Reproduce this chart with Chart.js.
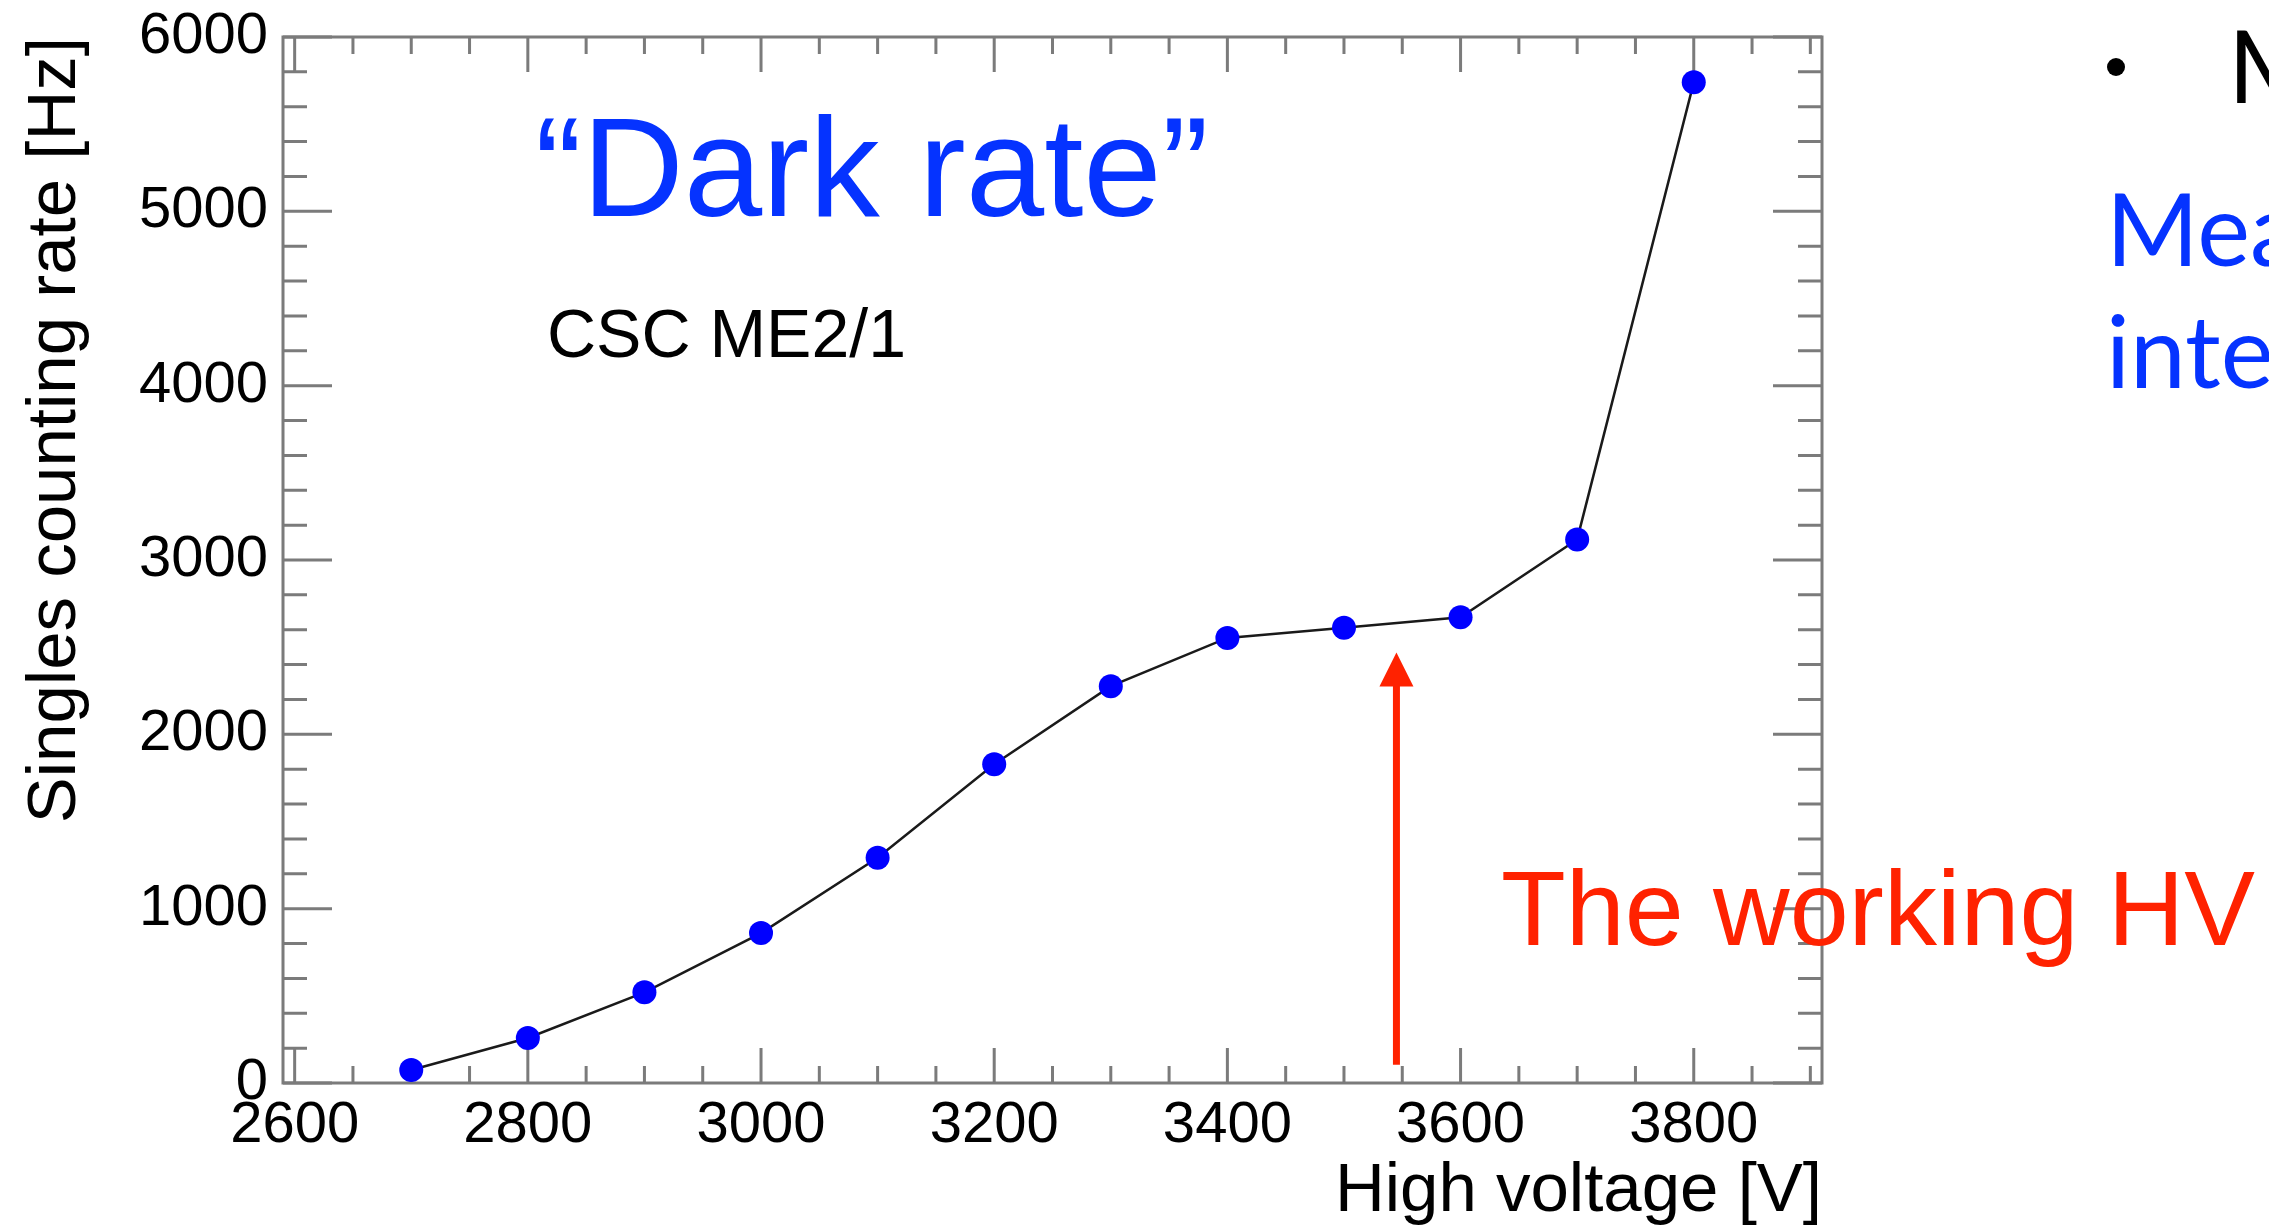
<!DOCTYPE html>
<html>
<head>
<meta charset="utf-8">
<title>Dark rate - CSC ME2/1</title>
<script src="https://cdn.jsdelivr.net/npm/chart.js@4.4.1/dist/chart.umd.min.js"></script>
<style>
  html, body { margin: 0; padding: 0; background: #fff; }
  #wrap { width: 2269px; height: 1227px; position: relative; }
</style>
</head>
<body>
<div id="wrap"><canvas id="canvas"></canvas></div>
<script>
// high voltage [V] vs singles counting rate [Hz]
const voltages = [2700, 2800, 2900, 3000, 3100, 3200, 3300, 3400, 3500, 3600, 3700, 3800];
const rates = [75, 258, 520, 860, 1292, 1828, 2276, 2553, 2612, 2672, 3118, 5740];

const xTicks = [2600, 2800, 3000, 3200, 3400, 3600, 3800];
const yTicks = [0, 1000, 2000, 3000, 4000, 5000, 6000];
const xRange = [2590, 3910];
const yRange = [0, 6000];
const xMinorStep = 50;
const yMinorStep = 200;

// red arrow pointing at the working point
const workingHV = 3545;
const arrowRates = [105, 2470];

const frameColor = '#7b7b7b';
const red = '#ff2200';
const blue = '#0533ff';
const sans = '"Liberation Sans", Arial, Helvetica, sans-serif';

// ROOT style frame: box with ticks on the inside of all four sides
const rootFrame = {
    id: 'rootFrame',
    beforeDatasetsDraw(chart) {
        const { ctx, chartArea: a, scales: { x, y } } = chart;
        ctx.save();
        ctx.strokeStyle = frameColor;
        ctx.lineWidth = 3;
        ctx.beginPath();
        for (let v = xTicks[0]; v <= xRange[1]; v += xMinorStep) {
            const px = x.getPixelForValue(v);
            const len = xTicks.includes(v) ? 35 : 17;
            ctx.moveTo(px, a.bottom);
            ctx.lineTo(px, a.bottom - len);
            ctx.moveTo(px, a.top);
            ctx.lineTo(px, a.top + len);
        }
        for (let v = yRange[0]; v <= yRange[1]; v += yMinorStep) {
            const py = y.getPixelForValue(v);
            const len = yTicks.includes(v) ? 49 : 24;
            ctx.moveTo(a.left, py);
            ctx.lineTo(a.left + len, py);
            ctx.moveTo(a.right, py);
            ctx.lineTo(a.right - len, py);
        }
        ctx.stroke();
        ctx.strokeRect(a.left, a.top, a.right - a.left, a.bottom - a.top);
        ctx.restore();
    }
};

const notes = {
    id: 'notes',
    afterDraw(chart) {
        const { ctx, scales: { x, y } } = chart;
        ctx.save();

        // arrow
        const ax = x.getPixelForValue(workingHV);
        const yBase = y.getPixelForValue(arrowRates[0]);
        const yTip = y.getPixelForValue(arrowRates[1]);
        ctx.strokeStyle = red;
        ctx.fillStyle = red;
        ctx.lineWidth = 7;
        ctx.beginPath();
        ctx.moveTo(ax, yBase);
        ctx.lineTo(ax, yTip + 30);
        ctx.stroke();
        ctx.beginPath();
        ctx.moveTo(ax, yTip);
        ctx.lineTo(ax - 17, yTip + 34);
        ctx.lineTo(ax + 17, yTip + 34);
        ctx.closePath();
        ctx.fill();

        ctx.textAlign = 'left';
        ctx.textBaseline = 'alphabetic';

        ctx.fillStyle = blue;
        ctx.font = '141px ' + sans;
        ctx.fillText('\u201CDark rate\u201D', 535, 216);

        ctx.fillStyle = '#000';
        ctx.font = '68px ' + sans;
        ctx.fillText('CSC ME2/1', 547, 357);

        ctx.fillStyle = red;
        ctx.font = '106px ' + sans;
        ctx.fillText('The working HV', 1501, 945);

        // slide text on the right, cut off by the page edge
        ctx.fillStyle = '#000';
        ctx.beginPath();
        ctx.arc(2116, 67, 9, 0, Math.PI * 2);
        ctx.fill();
        ctx.font = '100px Lato, "Open Sans", sans-serif';
        ctx.fillText('M', 2228, 103);
        ctx.fillStyle = blue;
        ctx.fillText('Mea', 2106, 266);
        ctx.fillText('inte', 2106, 388);

        ctx.restore();
    }
};

const points = voltages.map((v, i) => ({ x: v, y: rates[i] }));

new Chart('canvas', {
    type: 'line',
    data: {
        datasets: [
            {
                label: 'Singles counting rate',
                data: points,
                borderColor: '#1a1a1a',
                borderWidth: 2.5,
                tension: 0,
                pointRadius: 12,
                pointBorderWidth: 0,
                pointBackgroundColor: '#0000ff',
                pointBorderColor: '#0000ff'
            }
        ]
    },
    options: {
        responsive: true,
        maintainAspectRatio: false,
        animation: false,
        devicePixelRatio: 1,
        layout: {
            padding: { left: 0, top: 37, right: 447, bottom: 0 }
        },
        plugins: {
            legend: { display: false },
            tooltip: { enabled: false }
        },
        scales: {
            x: {
                type: 'linear',
                min: xRange[0],
                max: xRange[1],
                afterBuildTicks: scale => {
                    scale.ticks = xTicks.map(v => ({ value: v }));
                },
                afterFit: scale => {
                    scale.height = 144;
                    scale.paddingLeft = 0;
                    scale.paddingRight = 0;
                },
                grid: { display: false, drawTicks: false },
                border: { display: false },
                ticks: {
                    color: '#000',
                    padding: 14,
                    maxRotation: 0,
                    autoSkip: false,
                    font: { family: sans, size: 58, lineHeight: 1 },
                    callback: v => String(v)
                },
                title: {
                    display: true,
                    text: 'High voltage [V]',
                    align: 'end',
                    color: '#000',
                    padding: { top: 0, bottom: 1 },
                    font: { family: sans, size: 69, lineHeight: 1 }
                }
            },
            y: {
                type: 'linear',
                min: yRange[0],
                max: yRange[1],
                afterBuildTicks: scale => {
                    scale.ticks = yTicks.map(v => ({ value: v }));
                },
                afterFit: scale => {
                    scale.width = 283;
                    scale.paddingTop = 0;
                    scale.paddingBottom = 0;
                },
                grid: { display: false, drawTicks: false },
                border: { display: false },
                ticks: {
                    color: '#000',
                    padding: 15,
                    autoSkip: false,
                    font: { family: sans, size: 58, lineHeight: 1 },
                    callback: v => String(v)
                },
                title: {
                    display: true,
                    text: 'Singles counting rate [Hz]',
                    align: 'end',
                    color: '#000',
                    padding: { top: 21, bottom: 0 },
                    font: { family: sans, size: 69, lineHeight: 1 }
                }
            }
        }
    },
    plugins: [rootFrame, notes]
});
</script>
</body>
</html>
